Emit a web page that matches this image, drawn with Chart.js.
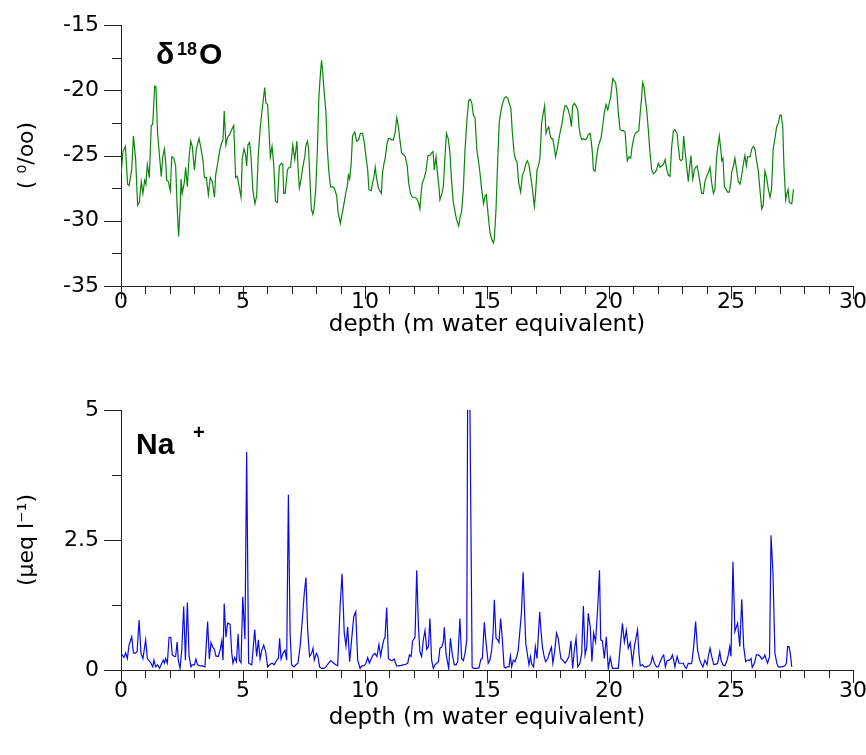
<!DOCTYPE html>
<html>
<head>
<meta charset="utf-8">
<script src="https://cdn.jsdelivr.net/npm/chart.js@4.4.1/dist/chart.umd.min.js"></script>
<style>
  body { margin: 0; background: #fff; }
  canvas { position: absolute; left: 0; }
  #oChart { top: 0; }
  #naChart { top: 350px; }
</style>
</head>
<body>
<canvas id="oChart" width="866" height="350"></canvas>
<canvas id="naChart" width="866" height="405"></canvas>
<script>
// depth axis ticks
const depthTicks = [0, 5, 10, 15, 20, 25, 30];
const oTicks = [-35, -30, -25, -20, -15];
const naTicks = [0, 2.5, 5];

// delta 18O record
const depthO = [
  0.00,0.08,0.18,0.27,0.33,0.44,0.51,0.60,0.68,0.75,
  0.83,0.90,0.97,1.02,1.08,1.16,1.24,1.30,1.38,1.43,
  1.50,1.58,1.65,1.71,1.78,1.84,1.87,1.94,2.02,2.08,
  2.16,2.24,2.30,2.36,2.43,2.46,2.51,2.60,2.65,2.72,
  2.79,2.86,2.92,3.01,3.09,3.20,3.28,3.36,3.42,3.50,
  3.58,3.66,3.74,3.83,3.88,3.96,4.06,4.13,4.18,4.23,
  4.30,4.37,4.45,4.54,4.62,4.70,4.77,4.85,4.92,4.97,
  5.04,5.10,5.15,5.20,5.27,5.33,5.40,5.49,5.56,5.63,
  5.71,5.79,5.89,5.94,6.01,6.07,6.12,6.19,6.26,6.33,
  6.41,6.49,6.57,6.63,6.67,6.73,6.82,6.89,6.95,7.04,
  7.12,7.21,7.25,7.31,7.38,7.46,7.54,
  7.57,7.64,7.69,7.75,7.80,7.86,7.91,7.98,8.05,8.11,
  8.17,8.22,8.27,8.33,8.40,8.45,8.52,8.59,8.67,8.74,
  8.84,8.90,8.99,9.06,9.13,9.21,9.27,9.32,9.37,9.43,
  9.49,9.58,9.66,9.74,9.81,9.90,9.97,10.04,10.11,10.16,
  10.25,10.31,10.37,10.42,10.47,10.55,10.61,10.67,10.72,10.78,
  10.83,10.89,10.96,11.02,11.09,11.16,11.23,11.30,11.37,11.43,
  11.50,11.57,11.65,11.73,11.79,11.86,11.94,12.02,12.12,12.19,
  12.25,12.30,12.35,12.43,12.50,12.58,12.66,12.73,12.79,12.84,
  12.91,12.96,13.03,13.07,13.14,13.21,13.29,13.34,13.41,13.48,
  13.55,13.62,13.69,13.75,13.84,13.89,13.96,14.03,14.10,14.18,
  14.25,14.32,14.38,14.44,14.51,14.58,14.64,14.71,14.78,14.86,
  14.92,14.97,15.05,15.12,
  15.19,15.26,15.30,15.37,15.44,15.50,15.57,15.64,15.71,15.78,
  15.85,15.91,15.98,16.04,16.11,16.17,16.23,16.30,16.38,16.45,
  16.52,16.58,16.65,16.72,16.79,16.87,16.94,16.99,17.05,17.12,
  17.17,17.24,17.31,17.36,17.42,17.47,17.53,17.58,17.64,17.69,
  17.75,17.81,17.88,17.94,18.01,18.07,18.14,18.20,18.26,18.33,
  18.40,18.46,18.51,18.58,18.65,18.72,18.77,18.83,18.89,18.95,
  19.02,19.09,19.15,19.22,19.26,19.32,19.36,19.43,19.48,19.55,
  19.61,19.67,19.74,19.81,19.88,19.95,20.00,20.07,20.11,20.16,
  20.22,20.27,20.33,20.38,20.45,20.52,20.59,20.66,20.70,20.75,
  20.82,20.89,20.94,21.01,21.08,21.15,21.22,21.28,21.33,21.38,
  21.44,21.49,21.55,21.61,21.68,21.75,21.82,21.89,21.95,22.02,
  22.09,22.16,22.23,22.30,22.37,22.43,22.50,22.57,22.64,22.70,
  22.79,22.84,22.90,22.95,23.01,23.06,23.11,23.17,23.25,23.31,
  23.36,23.43,23.50,23.55,23.61,23.66,23.73,23.80,23.87,23.93,
  24.00,24.07,24.14,24.21,24.28,24.34,24.41,24.47,24.52,24.58,
  24.62,24.67,24.73,24.80,24.86,24.93,24.99,25.03,25.10,25.16,
  25.23,25.30,25.37,25.44,25.51,25.57,25.63,25.68,25.78,25.85,
  25.92,25.98,26.05,26.12,26.19,26.26,26.32,26.39,26.46,26.53,
  26.60,26.66,26.73,26.80,26.87,26.94,27.01,27.06,27.12,27.17,
  27.24,27.28,27.34,27.39,27.49,27.56
];
const d18O = [
  -26.5,-24.7,-24.3,-27.2,-27.3,-26.1,-23.5,-25.3,-28.8,-28.6,
  -27.0,-27.9,-26.9,-27.2,-25.7,-26.7,-22.7,-22.6,-19.7,-19.7,
  -23.3,-25.1,-26.6,-25.1,-24.5,-25.7,-26.9,-27.0,-27.7,-25.1,
  -25.2,-25.8,-28.9,-31.2,-28.8,-26.8,-27.9,-27.0,-25.9,-27.4,
  -25.1,-23.9,-24.3,-26.1,-24.5,-23.7,-24.5,-25.4,-26.7,-26.7,
  -28.0,-26.7,-27.0,-28.2,-26.5,-25.6,-24.5,-24.0,-23.8,-21.6,
  -24.2,-23.6,-23.4,-23.0,-22.7,-26.7,-26.6,-27.5,-28.2,-25.2,
  -24.5,-24.9,-25.8,-24.2,-24.0,-25.1,-27.6,-28.7,-28.1,-24.8,
  -22.8,-21.4,-19.8,-21.0,-21.1,-23.3,-25.1,-24.3,-25.7,-28.5,
  -28.6,-25.8,-25.6,-25.7,-27.9,-27.9,-26.1,-25.9,-25.9,-24.2,
  -25.3,-23.9,-25.8,-27.5,-26.8,-25.8,-25.0,
  -24.3,-23.9,-24.5,-27.1,-29.1,-29.5,-29.1,-27.6,-24.5,-20.5,
  -18.8,-17.7,-18.7,-20.2,-21.7,-24.3,-26.3,-27.4,-27.4,-27.5,
  -28.1,-29.4,-30.2,-29.5,-28.8,-27.9,-27.4,-26.5,-26.8,-25.7,
  -23.5,-23.2,-23.9,-23.8,-23.3,-23.3,-24.0,-25.1,-26.1,-27.6,
  -27.7,-27.1,-26.6,-25.9,-26.7,-27.5,-27.7,-27.9,-26.3,-25.6,
  -25.2,-24.2,-23.7,-23.7,-23.8,-23.8,-23.3,-22.1,-22.8,-23.8,
  -24.8,-24.9,-25.1,-25.8,-27.1,-27.9,-28.2,-28.2,-28.3,-28.6,
  -29.1,-27.9,-27.1,-26.7,-26.2,-25.0,-25.0,-24.8,-24.7,-26.1,
  -25.1,-26.2,-27.4,-28.4,-28.0,-27.4,-24.7,-23.3,-23.7,-24.8,
  -27.0,-28.6,-29.3,-29.9,-30.4,-29.8,-29.3,-27.6,-24.5,-22.2,
  -20.8,-20.7,-21.0,-21.9,-22.1,-24.5,-25.3,-26.3,-27.6,-28.7,
  -28.1,-28.0,-29.6,-30.9,
  -31.4,-31.7,-31.4,-29.1,-25.3,-22.5,-21.6,-21.0,-20.6,-20.5,
  -20.6,-21.0,-21.4,-23.3,-24.8,-25.3,-25.5,-27.1,-27.8,-26.5,
  -26.2,-25.7,-25.4,-25.7,-26.6,-27.7,-28.9,-27.9,-26.1,-25.7,
  -25.2,-22.5,-21.7,-21.2,-23.3,-23.0,-22.8,-23.4,-23.7,-23.7,
  -24.3,-25.1,-24.5,-23.8,-23.1,-22.6,-21.7,-21.2,-21.2,-21.5,
  -22.0,-22.8,-21.2,-21.0,-21.2,-21.5,-22.8,-23.5,-23.8,-23.7,
  -23.8,-23.7,-23.4,-23.3,-23.7,-24.8,-26.1,-26.2,-25.3,-24.4,
  -24.0,-23.7,-22.8,-21.7,-21.1,-21.5,-21.1,-20.5,-19.8,-19.1,
  -19.3,-19.4,-20.3,-21.7,-23.0,-23.1,-23.1,-23.2,-24.3,-25.4,
  -25.1,-25.2,-24.4,-23.7,-23.3,-23.2,-23.1,-21.7,-20.7,-19.4,
  -19.8,-20.7,-21.6,-23.0,-24.8,-26.1,-26.4,-26.3,-26.1,-25.6,
  -25.9,-25.8,-25.7,-25.3,-26.1,-26.5,-26.6,-24.3,-23.1,-23.0,
  -23.3,-24.3,-25.3,-25.4,-25.3,-23.5,-24.5,-25.6,-27.0,-25.8,
  -25.0,-26.8,-26.1,-25.9,-25.8,-26.3,-27.1,-27.9,-27.9,-27.0,
  -26.6,-26.3,-25.9,-27.1,-27.9,-27.6,-25.1,-24.2,-23.5,-24.5,
  -25.4,-25.2,-27.4,-27.6,-27.8,-27.8,-27.1,-26.3,-25.8,-25.2,
  -26.1,-27.0,-27.2,-26.5,-25.6,-25.0,-25.8,-25.1,-25.1,-24.5,
  -24.3,-24.5,-25.4,-26.2,-27.7,-29.1,-28.8,-26.2,-26.7,-27.6,
  -28.2,-27.6,-24.5,-23.7,-22.8,-22.5,-21.9,-21.9,-22.8,-25.8,
  -28.4,-28.0,-27.6,-28.6,-28.7,-27.6
];

// Na+ record
const depthNa = [
  0.00,0.05,0.12,0.19,0.26,0.33,0.44,0.51,0.57,0.66,
  0.74,0.82,0.90,1.01,1.08,1.15,1.23,1.30,1.35,1.42,
  1.50,1.58,1.67,1.73,1.78,1.83,1.90,1.97,2.04,2.10,
  2.19,2.24,2.30,2.35,2.42,2.49,2.57,2.64,2.72,2.79,
  2.87,2.92,3.01,3.07,3.14,3.24,3.33,3.44,3.55,3.62,
  3.69,3.76,3.83,3.89,3.99,4.07,4.13,4.18,4.23,4.30,
  4.37,4.47,4.54,4.59,4.66,4.73,4.80,4.85,4.92,4.99,
  5.08,5.15,5.23,5.36,5.48,5.56,5.63,5.70,5.77,5.85,
  5.93,6.01,6.11,6.20,6.28,6.38,6.45,6.50,6.56,6.64,
  6.72,6.79,6.86,6.93,6.99,7.09,7.17,7.25,7.34,7.43,
  7.51,7.58,7.65,7.73,7.81,7.87,7.92,8.01,8.07,8.14,
  8.22,8.31,8.40,8.50,8.59,8.70,8.80,8.88,8.98,9.06,
  9.15,9.22,9.29,9.37,9.45,9.54,9.62,9.70,9.80,9.86,
  9.96,10.04,10.11,10.18,10.25,10.33,10.41,10.49,10.57,10.64,
  10.71,10.77,10.82,10.89,10.96,11.04,11.12,11.20,11.29,11.37,
  11.48,11.57,11.67,11.75,11.82,11.89,11.95,12.05,12.12,12.19,
  12.25,12.32,12.39,12.46,12.53,12.60,12.66,12.73,12.80,12.87,
  12.94,13.01,13.07,13.14,13.21,13.25,13.32,13.39,13.43,13.50,
  13.58,13.66,13.73,13.80,13.89,13.96,14.03,14.10,14.17,14.21,
  14.29,14.39,14.44,14.58,14.67,14.75,14.81,14.89,14.95,15.05,
  15.12,15.19,15.25,15.30,15.37,15.44,15.49,15.56,15.63,15.70,
  15.77,15.83,15.90,15.96,16.01,16.08,16.15,16.22,16.28,16.34,
  16.41,16.48,16.53,16.59,16.65,16.72,16.78,16.83,16.91,16.98,
  17.05,17.09,17.16,17.21,17.27,17.34,17.40,17.49,17.57,17.64,
  17.70,17.77,17.85,17.92,17.98,18.03,18.11,18.20,18.28,18.36,
  18.44,18.51,18.58,18.65,18.72,18.81,18.88,18.95,19.02,19.09,
  19.15,19.23,19.30,19.37,19.45,19.54,19.61,19.66,19.73,19.81,
  19.89,19.97,20.05,20.14,20.25,20.38,20.46,20.55,20.63,20.71,
  20.79,20.87,20.96,21.04,21.17,21.23,21.28,21.37,21.45,21.54,
  21.64,21.72,21.78,21.86,21.95,22.02,22.10,22.19,22.24,22.31,
  22.38,22.46,22.54,22.60,22.65,22.70,22.79,22.87,22.95,23.05,
  23.11,23.17,23.25,23.33,23.39,23.47,23.55,23.63,23.72,23.77,
  23.85,23.93,24.02,24.07,24.14,24.21,24.29,24.37,24.45,24.54,
  24.59,24.67,24.75,24.84,24.89,24.95,25.00,25.08,25.16,25.22,
  25.27,25.36,25.44,25.52,25.60,25.68,25.77,25.82,25.87,25.96,
  26.04,26.12,26.20,26.26,26.34,26.39,26.45,26.50,26.58,26.64,
  26.72,26.80,26.88,26.94,27.02,27.10,27.21,27.27,27.32,27.38,
  27.43,27.49
];
const na = [
  0.26,0.29,0.24,0.33,0.22,0.48,0.64,0.33,0.32,0.35,
  0.96,0.32,0.22,0.58,0.22,0.18,0.13,0.06,0.19,0.06,
  0.10,0.03,0.13,0.19,0.13,0.22,0.13,0.63,0.63,0.29,
  0.26,0.26,0.54,0.18,0.03,0.38,1.22,0.19,1.30,0.26,
  0.06,0.10,0.10,0.21,0.10,0.08,0.08,0.06,0.93,0.21,
  0.53,0.44,0.40,0.27,0.26,0.40,0.56,0.19,1.28,0.63,
  0.90,0.88,0.32,0.13,0.24,0.16,0.69,0.19,0.14,1.41,
  0.59,4.19,0.13,0.10,0.78,0.26,0.58,0.21,0.38,0.48,
  0.35,0.06,0.11,0.13,0.10,0.19,0.22,0.61,0.21,0.32,
  0.38,0.19,3.37,0.71,0.10,0.06,0.10,0.13,0.45,0.96,
  1.47,1.78,0.77,0.26,0.32,0.42,0.19,0.32,0.26,0.06,
  0.03,0.03,0.06,0.13,0.18,0.14,0.10,0.08,1.22,1.85,
  0.71,0.46,0.83,0.16,0.58,1.03,1.12,0.19,0.03,0.08,
  0.08,0.13,0.24,0.13,0.21,0.29,0.32,0.26,0.49,0.27,
  0.45,0.58,0.63,1.20,0.22,0.19,0.18,0.21,0.08,0.08,
  0.09,0.10,0.11,0.13,0.29,0.26,0.56,0.63,1.92,0.83,
  0.35,0.26,0.58,0.76,0.40,0.45,0.99,0.19,0.03,0.10,
  0.13,0.16,0.42,0.44,0.54,0.82,0.32,0.13,0.03,0.61,
  0.29,0.10,0.10,0.16,0.99,0.22,0.18,0.32,0.58,5.6,
  5.6,0.06,0.03,0.03,0.04,0.21,0.22,0.92,0.58,0.13,
  0.19,0.38,0.71,1.35,0.61,0.58,0.53,0.99,0.58,0.06,
  0.04,0.06,0.06,0.27,0.06,0.19,0.16,0.26,0.38,0.71,
  1.09,1.88,1.22,0.51,0.32,0.10,0.26,0.12,0.06,0.45,
  0.22,0.22,1.12,0.77,0.45,0.26,0.16,0.22,0.35,0.44,
  0.13,0.35,0.71,0.61,0.38,0.22,0.19,0.13,0.19,0.26,
  0.56,0.03,0.38,0.61,0.06,0.13,0.32,1.23,0.29,0.45,
  1.09,0.83,0.16,0.71,0.54,1.22,1.92,0.58,0.56,0.22,
  0.64,0.03,0.24,0.03,0.03,0.03,0.45,0.90,0.54,0.76,
  0.42,0.53,0.13,0.45,0.77,0.32,0.08,0.10,0.06,0.06,
  0.08,0.13,0.26,0.13,0.06,0.06,0.16,0.26,0.29,0.06,
  0.18,0.19,0.22,0.29,0.19,0.06,0.26,0.13,0.13,0.13,
  0.06,0.03,0.13,0.12,0.13,0.45,0.93,0.38,0.19,0.13,
  0.06,0.19,0.10,0.26,0.42,0.26,0.11,0.11,0.13,0.35,
  0.19,0.10,0.08,0.19,0.29,0.45,0.26,2.08,0.74,0.83,
  0.90,0.45,1.36,0.45,0.16,0.19,0.19,0.22,0.05,0.13,
  0.29,0.29,0.26,0.21,0.24,0.29,0.19,0.13,0.26,2.59,
  1.86,0.32,0.13,0.06,0.06,0.06,0.08,0.13,0.45,0.45,
  0.32,0.06
];

const axisColor = '#222';
const tickFont = { family: 'DejaVu Sans', size: 22 };
const titleFont = { family: 'DejaVu Sans', size: 23 };
Chart.defaults.color = '#000';

// major/minor tick marks drawn outside the plot, like the original software
const tickMarks = {
  id: 'tickMarks',
  afterDraw(chart, args, opts) {
    const { ctx, chartArea: a, scales: { x, y } } = chart;
    ctx.save();
    ctx.strokeStyle = axisColor;
    ctx.lineWidth = 1;
    ctx.beginPath();
    for (let d = depthTicks[0]; d <= depthTicks[depthTicks.length - 1]; d++) {
      const px = Math.round(x.getPixelForValue(d)) + 0.5;
      const len = depthTicks.includes(d) ? 13 : 8;
      ctx.moveTo(px, a.bottom);
      ctx.lineTo(px, a.bottom + len);
    }
    const yt = opts.yTicks;
    for (let i = 0; i < yt.length; i++) {
      let py = Math.round(y.getPixelForValue(yt[i])) + 0.5;
      ctx.moveTo(a.left - 17, py);
      ctx.lineTo(a.left, py);
      if (i < yt.length - 1) {
        py = Math.round(y.getPixelForValue((yt[i] + yt[i + 1]) / 2)) + 0.5;
        ctx.moveTo(a.left - 9, py);
        ctx.lineTo(a.left, py);
      }
    }
    ctx.stroke();
    ctx.restore();
  }
};

// bold panel labels with superscripts
const panelLabel = {
  id: 'panelLabel',
  afterDraw(chart, args, opts) {
    const ctx = chart.ctx;
    ctx.save();
    ctx.fillStyle = '#000';
    ctx.textBaseline = 'alphabetic';
    opts.parts.forEach(p => {
      ctx.font = 'bold ' + p.size + 'px "Liberation Sans", Arial, sans-serif';
      ctx.fillText(p.text, p.x, p.y);
    });
    ctx.restore();
  }
};

function makeChart(id, xs, ys, color, yMin, yMax, yTicks, yTitle, pad, xHeight, labelPad, titlePad, parts) {
  return new Chart(document.getElementById(id), {
    type: 'line',
    data: {
      datasets: [{
        data: xs.map((d, i) => ({ x: d, y: ys[i] })),
        borderColor: color,
        borderWidth: 1.2,
        pointRadius: 0,
        tension: 0,
        fill: false
      }]
    },
    options: {
      responsive: false,
      animation: false,
      devicePixelRatio: 1,
      layout: { padding: pad },
      plugins: {
        legend: { display: false },
        tooltip: { enabled: false },
        tickMarks: { yTicks: yTicks },
        panelLabel: { parts: parts }
      },
      scales: {
        x: {
          type: 'linear',
          min: depthTicks[0],
          max: depthTicks[depthTicks.length - 1],
          grid: { display: false, drawTicks: false },
          border: { display: true, color: axisColor, width: 1 },
          afterBuildTicks: s => { s.ticks = depthTicks.map(v => ({ value: v })); },
          ticks: { font: tickFont, padding: labelPad, maxRotation: 0, autoSkip: false },
          title: {
            display: true,
            text: 'depth (m water equivalent)',
            font: titleFont,
            padding: { top: 0, bottom: titlePad }
          },
          afterFit: s => { s.height = xHeight; s.paddingLeft = 0; s.paddingRight = 0; }
        },
        y: {
          type: 'linear',
          min: yMin,
          max: yMax,
          grid: { display: false, drawTicks: false },
          border: { display: true, color: axisColor, width: 1 },
          afterBuildTicks: s => { s.ticks = yTicks.map(v => ({ value: v })); },
          ticks: { font: tickFont, padding: 22 },
          title: {
            display: true,
            text: yTitle,
            font: { family: 'DejaVu Sans', size: 22 },
            padding: { top: 14, bottom: 0 }
          },
          afterFit: s => { s.width = 121; s.paddingTop = 0; s.paddingBottom = 0; }
        }
      }
    },
    plugins: [tickMarks, panelLabel]
  });
}

makeChart('oChart', depthO, d18O, '#0a850a', -35, -15, oTicks, '( \u2070/oo)',
  { top: 25, left: 0, right: 13, bottom: 0 }, 64, 3, 11,
  [
    { text: '\u03b4', size: 30, x: 156, y: 64 },
    { text: '18', size: 18, x: 177, y: 55 },
    { text: 'O', size: 30, x: 199, y: 64 }
  ]);

makeChart('naChart', depthNa, na, '#0a0ae6', 0, 5, naTicks, '(\u00b5eq l\u207b\u00b9)',
  { top: 60, left: 0, right: 13, bottom: 0 }, 85, 8, 23,
  [
    { text: 'Na', size: 30, x: 136, y: 104 },
    { text: '+', size: 20, x: 193, y: 89 }
  ]);
</script>
</body>
</html>
